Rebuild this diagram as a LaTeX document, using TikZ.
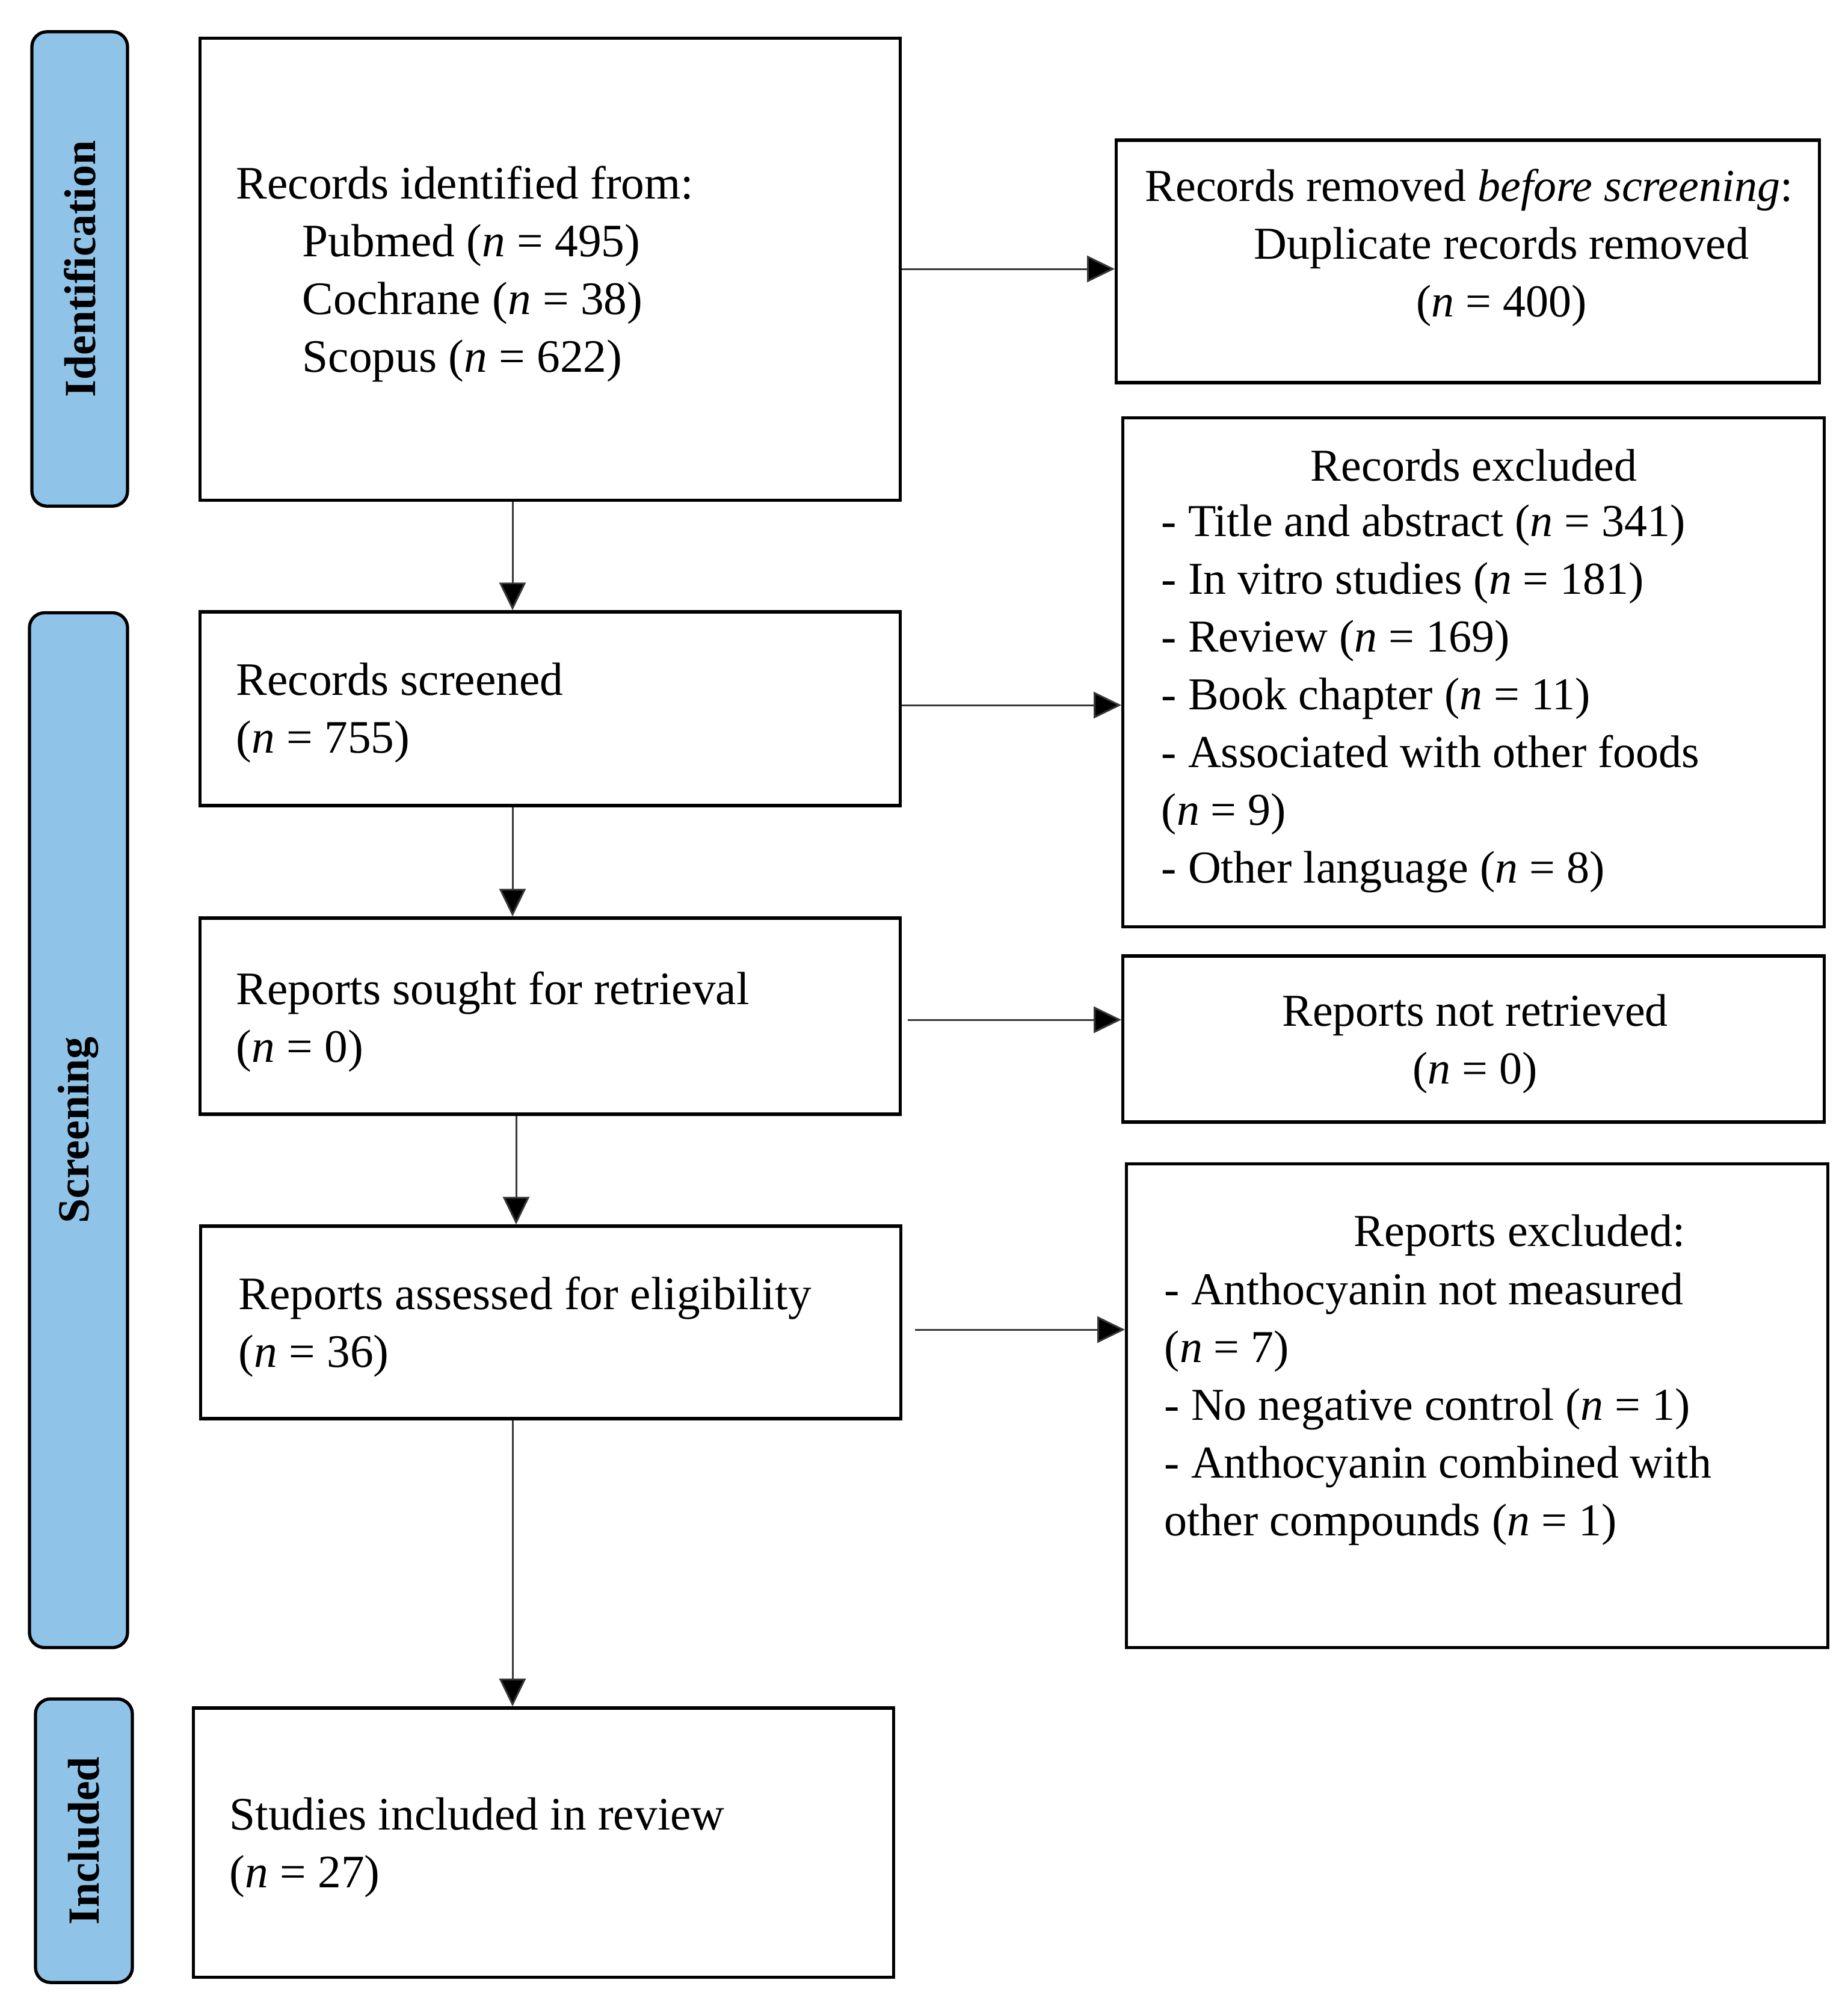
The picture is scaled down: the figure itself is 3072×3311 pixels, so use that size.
\documentclass[tikz,border=0pt]{standalone}
\usepackage{fontspec}
\setmainfont{Liberation Serif}
\usetikzlibrary{arrows.meta}
\definecolor{sideblue}{RGB}{143,195,232}
\definecolor{arrgray}{RGB}{55,55,55}
\begin{document}
\begin{tikzpicture}[x=0.01cm,y=-0.01cm,
  box/.style={draw, line width=1.5pt, inner sep=0pt},
  side/.style={draw, line width=1.5pt, fill=sideblue, rounded corners=0.25cm, inner sep=0pt},
  sidetxt/.style={rotate=90, font=\fontsize{21}{24}\selectfont\bfseries, inner sep=0pt},
  txt/.style={font=\fontsize{22}{27.3}\selectfont, align=left, inner sep=0pt},
  rtxt/.style={font=\fontsize{21.6}{27.3}\selectfont, align=left, inner sep=0pt},
  ctxt/.style={font=\fontsize{21.6}{27.3}\selectfont, align=center, inner sep=0pt},
  arr/.style={draw=arrgray, line width=0.85pt, -{Triangle[length=0.46cm,width=0.44cm,fill=black]}}]
\useasboundingbox (0,0) rectangle (3072,3311);
\fill[white] (0,0) rectangle (3072,3311);

% side labels
\node[side, minimum width=1.59cm, minimum height=7.88cm] (sid) at (132.5,447) {};
\node[sidetxt] (sidt) at (sid.center) {Identification};
\node[side, minimum width=1.63cm, minimum height=17.19cm] (ssc) at (130.5,1878.5) {};
\node[sidetxt] (ssct) at (ssc.center) {Screening};
\node[side, minimum width=1.61cm, minimum height=4.71cm] (sin) at (139.5,3059.5) {};
\node[sidetxt] (sint) at (sin.center) {Included};

% boxes
\node[box, minimum width=11.63cm, minimum height=7.67cm] (b1) at (914.5,447.5) {};
\node[box, minimum width=11.68cm, minimum height=4.03cm] (rem) at (2440,434.5) {};
\node[box, minimum width=11.65cm, minimum height=8.45cm] (exc) at (2449.5,1117.5) {};
\node[box, minimum width=11.63cm, minimum height=3.22cm] (scr) at (914.5,1178) {};
\node[box, minimum width=11.63cm, minimum height=3.26cm] (sou) at (914.5,1689) {};
\node[box, minimum width=11.65cm, minimum height=2.76cm] (nrt) at (2449.5,1727) {};
\node[box, minimum width=11.63cm, minimum height=3.20cm] (ass) at (915.5,2198) {};
\node[box, minimum width=11.65cm, minimum height=8.03cm] (rex) at (2455.5,2336.5) {};
\node[box, minimum width=11.63cm, minimum height=4.47cm] (inc) at (903.5,3062.5) {};

% texts
\node[txt, anchor=west] (t1) at (392,455) {Records identified from:\\
\hspace*{1.1cm}Pubmed (\textit{n} = 495)\\
\hspace*{1.1cm}Cochrane (\textit{n} = 38)\\
\hspace*{1.1cm}Scopus (\textit{n} = 622)};
\node[ctxt] (t2) at (2442,412) {Records removed \textit{before screening}:\\
\hspace*{1.08cm}Duplicate records removed\\
\hspace*{1.08cm}(\textit{n} = 400)};
\node[ctxt] (t3h) at (2450,774) {Records excluded};
\node[rtxt, anchor=west] (t3) at (1930,1161) {- Title and abstract (\textit{n} = 341)\\
- In vitro studies (\textit{n} = 181)\\
- Review (\textit{n} = 169)\\
- Book chapter (\textit{n} = 11)\\
- Associated with other foods\\
(\textit{n} = 9)\\
- Other language (\textit{n} = 8)};
\node[txt, anchor=west] (t4) at (392,1185) {Records screened\\(\textit{n} = 755)};
\node[txt, anchor=west] (t5) at (392,1698) {Reports sought for retrieval\\(\textit{n} = 0)};
\node[ctxt] (t6) at (2452,1735) {Reports not retrieved\\(\textit{n} = 0)};
\node[txt, anchor=west] (t7) at (396,2205) {Reports assessed for eligibility\\(\textit{n} = 36)};
\node[ctxt] (t8h) at (2526,2053) {Reports excluded:};
\node[rtxt, anchor=west] (t8) at (1935,2342) {- Anthocyanin not measured\\
(\textit{n} = 7)\\
- No negative control (\textit{n} = 1)\\
- Anthocyanin combined with\\
other compounds (\textit{n} = 1)};
\node[txt, anchor=west] (t9) at (381,3071) {Studies included in review\\(\textit{n} = 27)};

% arrow x positions
\coordinate (xa) at (852,0);
\coordinate (xb) at (858,0);
\coordinate (sx) at (1509,0);
\coordinate (ax) at (1521,0);

% vertical arrows
\draw[arr] (b1.south -| xa) -- (scr.north -| xa);
\draw[arr] (scr.south -| xa) -- (sou.north -| xa);
\draw[arr] (sou.south -| xb) -- (ass.north -| xb);
\draw[arr] (ass.south -| xa) -- (inc.north -| xa);

% horizontal arrows
\draw[arr] (b1.east |- 0,447) -- (rem.west |- 0,447);
\draw[arr] (scr.east |- 0,1172) -- (exc.west |- 0,1172);
\draw[arr] (sx |- 0,1695) -- (nrt.west |- 0,1695);
\draw[arr] (ax |- 0,2210) -- (rex.west |- 0,2210);
\end{tikzpicture}
\end{document}
